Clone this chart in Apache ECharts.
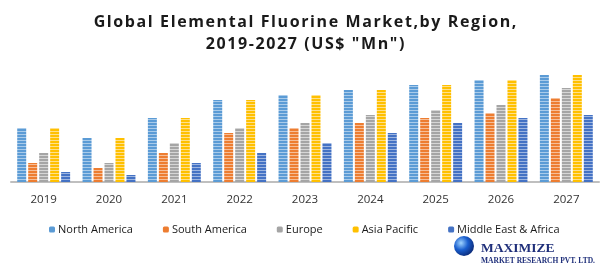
<!DOCTYPE html>
<html><head><meta charset="utf-8">
<script src="https://cdn.jsdelivr.net/npm/echarts@6/dist/echarts.min.js"></script>
<style>html,body{margin:0;padding:0;background:#fff}#c{width:615px;height:269px}</style>
</head><body><div id="c"></div>
<script>
const categories = ['2019','2020','2021','2022','2023','2024','2025','2026','2027'];
const northAmerica = [54, 44, 64, 82, 87, 92, 97, 102, 107];
const southAmerica = [19, 14, 29, 49, 54, 59, 64, 69, 84];
const europe       = [29, 19, 39, 54, 59, 67, 72, 77, 94];
const asiaPacific  = [54, 44, 64, 82, 87, 92, 97, 102, 107];
const middleEastAfrica = [10, 7, 19, 29, 39, 49, 59, 64, 67];
const seriesNames = ['North America','South America','Europe','Asia Pacific','Middle East & Africa'];
const titleLines = ['Global Elemental Fluorine Market,by Region,', '2019-2027 (US$ "Mn")'];

function spaced(s){ return s.split('').join('\u200A'); }
function stripe(base, light){
  const c = document.createElement('canvas'); c.width = 4; c.height = 3;
  const g = c.getContext('2d');
  g.fillStyle = base; g.fillRect(0,0,4,3);
  g.fillStyle = light; g.fillRect(0,2,4,1);
  return {image: c, repeat: 'repeat'};
}
const palette = [
  ['#5B9BD5','#A9CBEA'],
  ['#ED7D31','#F6BE98'],
  ['#A5A5A5','#D6D6D6'],
  ['#FFC000','#FFE08A'],
  ['#4472C4','#9DB5E0']
];
const data = [northAmerica, southAmerica, europe, asiaPacific, middleEastAfrica];
const chart = echarts.init(document.getElementById('c'), null, {renderer:'canvas'});
chart.setOption({
  animation:false,
  title:{text: titleLines.map(spaced).join('\n'), left:300, textAlign:'center', top:6,
    textStyle:{fontFamily:'Open Sans', fontWeight:'bold', fontSize:16, color:'#1a1a1a', lineHeight:22, align:'center'}},
  legend:{data:seriesNames.map((n,i)=>({name:n, itemStyle:{color:palette[i][0]}})), left:44, top:219, itemWidth:6, itemHeight:6, itemGap:30,
    textStyle:{fontFamily:'Open Sans', fontSize:11, color:'#1a1a1a', padding:[0,0,0,-2]}},
  grid:{left:11, right:16, top:62, bottom:87},
  xAxis:{type:'category', data:categories, axisTick:{show:false},
    axisLine:{lineStyle:{color:'#BFBFBF', width:2}},
    axisLabel:{fontFamily:'Open Sans', fontSize:11.5, color:'#333', margin:12}},
  yAxis:{type:'value', min:0, max:120, show:false, splitLine:{show:false}},
  series: data.map((d,i)=>({name:seriesNames[i], type:'bar', data:d, barWidth:9, barGap:'22%',
    itemStyle:{color: stripe(palette[i][0], palette[i][1])}})),
  graphic:[
    {type:'circle', shape:{cx:464, cy:246, r:10}, style:{fill:{type:'radial',x:0.35,y:0.35,r:0.7,colorStops:[{offset:0,color:'#9fd4ff'},{offset:0.5,color:'#1a5fcf'},{offset:1,color:'#0b2a78'}]}}},
    {type:'text', left:481, top:242, style:{text:'MAXIMIZE', font:'bold 13.5px "Liberation Serif"', fill:'#1f2f7a'}},
    {type:'text', left:481, top:257, style:{text:'MARKET RESEARCH PVT. LTD.', font:'bold 7.5px "Liberation Serif"', fill:'#1f2f7a'}}
  ]
});
</script></body></html>
